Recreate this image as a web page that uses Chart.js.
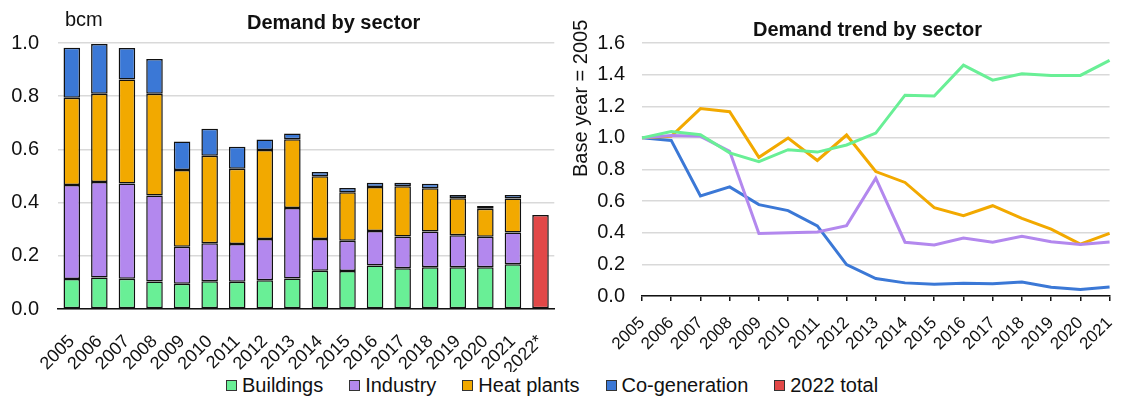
<!DOCTYPE html>
<html>
<head>
<meta charset="utf-8">
<script src="https://cdn.jsdelivr.net/npm/chart.js@4"></script>
<style>
	body { margin: 0; width: 1136px; height: 397px; overflow: hidden; background: #fff; font-family: "Liberation Sans", Arial, sans-serif; color: #111; }
	canvas { position: absolute; top: 0; }
	.txt { position: absolute; white-space: nowrap; line-height: 20px; font-size: 20px; }
	.title { font-weight: bold; }
	#legend { position: absolute; left: 226px; top: 375px; display: flex; gap: 26px; font-size: 20px; line-height: 20px; }
	#legend span.item { display: flex; align-items: center; }
	#legend i { display: inline-block; width: 9px; height: 9px; border: 1px solid #333; margin-right: 5px; }
</style>
</head>
<body>
<canvas id="left" width="570" height="372" style="left:0"></canvas>
<canvas id="right" width="566" height="372" style="left:570px"></canvas>

<div class="txt title" style="left:247px; top:12px">Demand by sector</div>
<div class="txt title" style="left:753px; top:19px">Demand trend by sector</div>
<div class="txt" style="left:65px; top:9px">bcm</div>
<div class="txt" style="left:0; top:0; transform-origin:0 0; transform:translate(570px,177px) rotate(-90deg)">Base year = 2005</div>

<div id="legend"></div>

<script>
// ─── categories ───
const years     = ['2005','2006','2007','2008','2009','2010','2011','2012','2013','2014','2015','2016','2017','2018','2019','2020','2021'];
const barYears  = [...years, '2022*'];

// ─── demand by sector, bcm ───
const buildings = [0.113,0.118,0.114,0.103,0.095,0.104,0.102,0.108,0.115,0.144,0.143,0.164,0.153,0.157,0.157,0.157,0.168];
const industry  = [0.353,0.359,0.358,0.324,0.139,0.143,0.142,0.155,0.265,0.119,0.114,0.129,0.120,0.134,0.120,0.115,0.120];
const heat      = [0.328,0.332,0.391,0.382,0.289,0.329,0.283,0.335,0.258,0.236,0.182,0.166,0.188,0.163,0.139,0.105,0.127];
const cogen     = [0.188,0.187,0.118,0.131,0.107,0.102,0.083,0.039,0.022,0.016,0.016,0.016,0.014,0.017,0.013,0.010,0.014];
const total2022 = 0.353;

// ─── trend, base year 2005 = 1 ───
const trendBuildings = [1.00,1.04,1.02,0.905,0.85,0.925,0.91,0.955,1.03,1.27,1.265,1.46,1.365,1.405,1.395,1.395,1.49];
const trendIndustry  = [1.00,1.015,1.01,0.915,0.395,0.40,0.405,0.445,0.745,0.34,0.322,0.366,0.34,0.378,0.343,0.326,0.341];
const trendHeat      = [1.00,1.01,1.185,1.165,0.877,0.999,0.857,1.018,0.787,0.718,0.559,0.508,0.571,0.491,0.423,0.328,0.396];
const trendCogen     = [1.00,0.984,0.633,0.69,0.578,0.54,0.443,0.199,0.11,0.083,0.074,0.081,0.077,0.089,0.055,0.041,0.057];

const col = {
	buildings: '#69ef96',
	industry:  '#b388ee',
	heat:      '#f2a900',
	cogen:     '#3b78d6',
	total:     '#e24848',
};

const font    = 'Liberation Sans, Arial, sans-serif';
const gridCol = '#d9d9d9';

// legend (shared by both charts)
const legendItems = [
	['Buildings', col.buildings],
	['Industry', col.industry],
	['Heat plants', col.heat],
	['Co-generation', col.cogen],
	['2022 total', col.total],
];
document.getElementById('legend').innerHTML = legendItems
	.map(([t, c]) => `<span class="item"><i style="background:${c}"></i>${t}</span>`).join('');

const pad = (a) => [...a, null];
const bar = (label, data, color) => ({
	label, data, backgroundColor: color, borderColor: '#111', borderWidth: 1.5,
	borderSkipped: false, barPercentage: 0.6, categoryPercentage: 1,
});

// ─── left: stacked bars ───
new Chart(document.getElementById('left'), {
	type: 'bar',
	data: {
		labels: barYears,
		datasets: [
			bar('Buildings', pad(buildings), col.buildings),
			bar('Industry', pad(industry), col.industry),
			bar('Heat plants', pad(heat), col.heat),
			bar('Co-generation', pad(cogen), col.cogen),
			bar('2022 total', [...years.map(() => null), total2022], col.total),
		]
	},
	options: {
		responsive: false,
		animation: false,
		layout: { padding: { top: 43, right: 8, left: 0, bottom: 0 } },
		plugins: { legend: { display: false }, tooltip: { enabled: false } },
		scales: {
			x: {
				stacked: true,
				grid: { display: false },
				border: { color: '#111', width: 1.5 },
				ticks: { color: '#111', font: { family: font, size: 18 }, minRotation: 45, maxRotation: 45, padding: 14, autoSkip: false },
				afterFit: s => { s.height = 63; },
			},
			y: {
				stacked: true,
				min: 0, max: 1.0,
				grid: { color: gridCol, lineWidth: 1.5, drawTicks: false },
				border: { display: false },
				ticks: { stepSize: 0.2, color: '#111', padding: 19, font: { family: font, size: 20 }, callback: v => v.toFixed(1) },
				afterFit: s => { s.width = 58; },
			}
		}
	}
});

// ─── right: trend lines ───
const line = (label, data, color) => ({
	label, data, borderColor: color, backgroundColor: color, borderWidth: 3, pointRadius: 0, tension: 0,
});

new Chart(document.getElementById('right'), {
	type: 'line',
	data: {
		labels: years,
		datasets: [
			line('Buildings', trendBuildings, col.buildings),
			line('Industry', trendIndustry, col.industry),
			line('Heat plants', trendHeat, col.heat),
			line('Co-generation', trendCogen, col.cogen),
		]
	},
	options: {
		responsive: false,
		animation: false,
		layout: { padding: { top: 43, right: 2, left: 0, bottom: 0 } },
		plugins: { legend: { display: false }, tooltip: { enabled: false } },
		scales: {
			x: {
				offset: false,
				grid: { drawOnChartArea: false, drawTicks: true, tickLength: 5, color: '#111', lineWidth: 1.5 },
				border: { color: '#111', width: 1.5 },
				ticks: { color: '#111', font: { family: font, size: 17 }, minRotation: 45, maxRotation: 45, padding: 12, autoSkip: false },
				afterFit: s => { s.height = 76; },
			},
			y: {
				min: 0, max: 1.6,
				grid: { color: gridCol, lineWidth: 1.5, drawTicks: false },
				border: { display: false },
				ticks: { stepSize: 0.2, color: '#111', padding: 17, font: { family: font, size: 20 }, callback: v => v.toFixed(1) },
				afterFit: s => { s.width = 72; },
			}
		}
	}
});
</script>
</body>
</html>
